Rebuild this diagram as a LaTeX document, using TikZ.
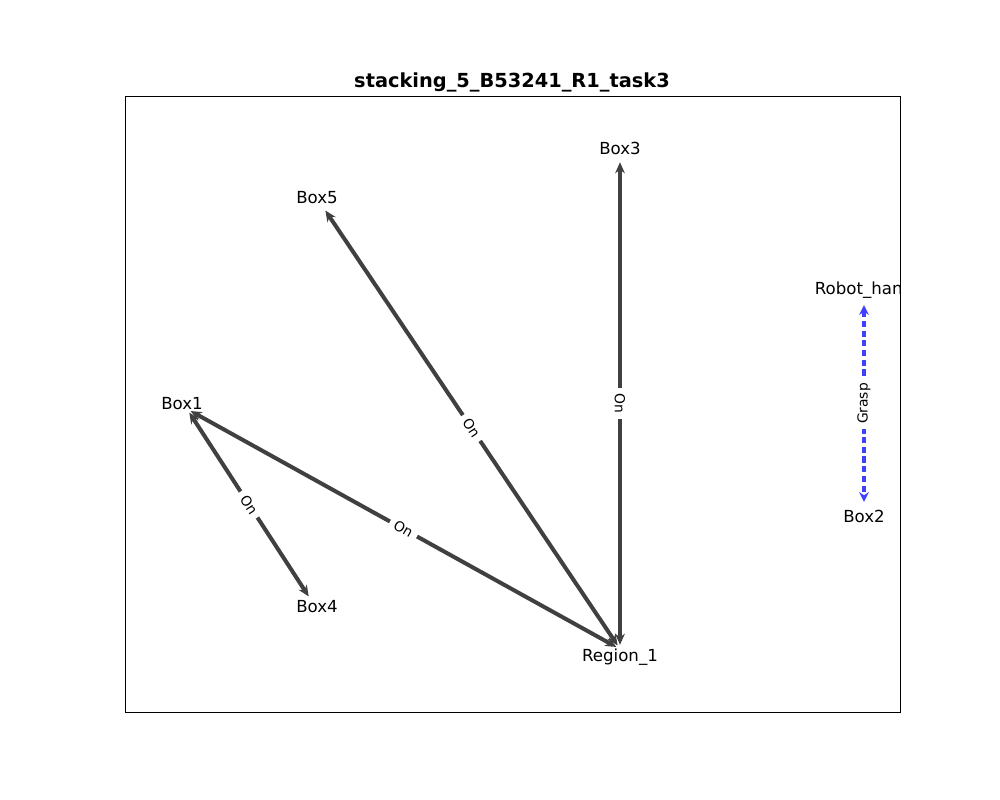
\documentclass[tikz,border=0pt]{standalone}
\usepackage{fontspec}
\setmainfont{DejaVu Sans}
\usetikzlibrary{arrows.meta}
\tikzset{SceneGraph/.style = {% styles for the scene graph
      vertex/.style = {circle, inner sep=0pt, minimum size=2mm},
         lbl/.style = {font=\fontsize{12}{14}\selectfont, inner sep=0pt},
      onedge/.style = {line width=2.9pt, draw=black!75,
                       {Stealth[length=8pt,width=7pt]}-{Stealth[length=8pt,width=7pt]}},
   graspedge/.style = {line width=2.9pt, draw=blue!75, dash pattern=on 4.5pt off 2.5pt,
                       {Stealth[length=7pt,width=7pt]}-{Stealth[length=7pt,width=7pt]}},
      elabel/.style = {midway, fill=white, inner xsep=4pt, inner ysep=2pt, font=\fontsize{10}{12}\selectfont}}
        }

\begin{document}
\begin{tikzpicture}[SceneGraph, x=0.254mm, y=-0.254mm]
\useasboundingbox (0,0) rectangle (1000,800);

% frame and title
\draw[line width=0.7pt] (125,96) rectangle (900,712);
\node (title) [font=\fontsize{14}{17}\selectfont\bfseries] at (512,82) {stacking\_5\_B53241\_R1\_task3};

% nodes
\node (box3)   [vertex] at (620,158) {};
\node (box5)   [vertex] at (323,207) {};
\node (box1)   [vertex] at (187,409) {};
\node (box4)   [vertex] at (311,600) {};
\node (region) [vertex] at (620,649) {};
\node (robot)  [vertex] at (864,301) {};
\node (box2)   [vertex] at (864,506) {};

% labels
\node (box3l)   [lbl] at (620,148) {Box3};
\node (box5l)   [lbl] at (317,198) {Box5};
\node (box1l)   [lbl] at (182,404) {Box1};
\node (box4l)   [lbl] at (317,607) {Box4};
\node (regionl) [lbl] at (620,657) {Region\_1};
\node (box2l)   [lbl] at (864,516) {Box2};
\begin{scope}
\clip (125,96) rectangle (900,712);
\node (robotl)  [lbl] at (864,290) {Robot\_hand};
\end{scope}

% edges
\draw [onedge] (box3) -- node[elabel, rotate=-90] {On} (region);
\draw [onedge] (box5) -- node[elabel, rotate=-56.7] {On} (region);
\draw [onedge] (box1) -- node[elabel, rotate=-29.9] {On} (region);
\draw [onedge] (box1) -- node[elabel, rotate=-56.9] {On} (box4);
\draw [graspedge] (robot) -- node[elabel, rotate=90] {Grasp} (box2);

\end{tikzpicture}
\end{document}
